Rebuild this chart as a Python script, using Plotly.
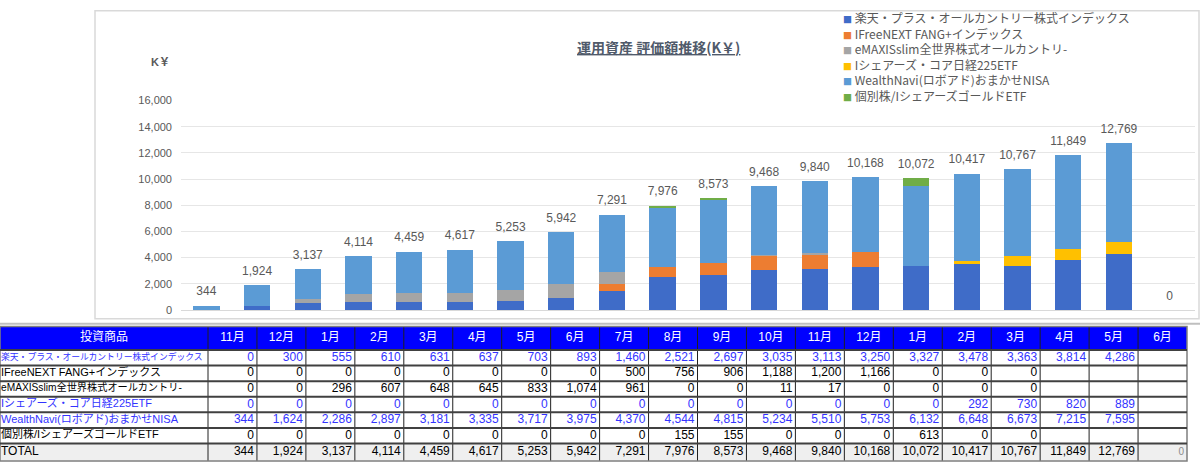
import plotly.graph_objects as go

W, H = 1200, 469

months = ['11月', '12月', '1月', '2月', '3月', '4月', '5月', '6月', '7月', '8月',
          '9月', '10月', '11月', '12月', '1月', '2月', '3月', '4月', '5月', '6月']

names = ['楽天・プラス・オールカントリー株式インデックス',
         'IFreeNEXT FANG+インデックス',
         'eMAXISslim全世界株式オールカントリ-',
         'Iシェアーズ・コア日経225ETF',
         'WealthNavi(ロボアド)おまかせNISA',
         '個別株/IシェアーズゴールドETF']

colors = ['#3f6cc8', '#ed7d31', '#a5a5a5', '#ffc000', '#5b9bd5', '#70ad47']

rakuten = [0, 300, 555, 610, 631, 637, 703, 893, 1460, 2521, 2697, 3035, 3113, 3250, 3327, 3478, 3363, 3814, 4286, None]
ifree = [0, 0, 0, 0, 0, 0, 0, 0, 500, 756, 906, 1188, 1200, 1166, 0, 0, 0, None, None, None]
emaxis = [0, 0, 296, 607, 648, 645, 833, 1074, 961, 0, 0, 11, 17, 0, 0, 0, 0, None, None, None]
ishares = [0, 0, 0, 0, 0, 0, 0, 0, 0, 0, 0, 0, 0, 0, 0, 292, 730, 820, 889, None]
wealth = [344, 1624, 2286, 2897, 3181, 3335, 3717, 3975, 4370, 4544, 4815, 5234, 5510, 5753, 6132, 6648, 6673, 7215, 7595, None]
kobetsu = [0, 0, 0, 0, 0, 0, 0, 0, 0, 155, 155, 0, 0, 0, 613, 0, 0, None, None, None]
totals = [344, 1924, 3137, 4114, 4459, 4617, 5253, 5942, 7291, 7976, 8573, 9468, 9840, 10168, 10072, 10417, 10767, 11849, 12769, 0]

series = [rakuten, ifree, emaxis, ishares, wealth, kobetsu]

yticks = [0, 2000, 4000, 6000, 8000, 10000, 12000, 14000, 16000]


def px_x(v):
    return v / W


def px_y(v):
    return 1 - v / H


def fmt(v):
    return '' if v is None else f'{v:,}'


fig = go.Figure()

xs = list(range(len(months)))

# stacked bars
for name, vals, col in zip(names, series, colors):
    fig.add_trace(go.Bar(x=xs, y=vals, name=name, marker_color=col,
                         marker_line_width=0, showlegend=False))

# total labels above bars
fig.add_trace(go.Scatter(x=xs, y=totals, mode='markers+text', text=[fmt(v) for v in totals],
                         textposition='top center',
                         marker=dict(size=10, color='rgba(0,0,0,0)'),
                         textfont=dict(family='Liberation Sans', size=12, color='#595959'),
                         showlegend=False, hoverinfo='skip'))

# ---- data table under the chart (own axes x2/y2, units = pixels, y going down as negative) ----
tbl_top = 329
name_w = 208
tbl_w = 1187
col_w = (tbl_w - name_w) / len(months)
x_edges = [0, name_w] + [name_w + col_w * (i + 1) for i in range(len(months))]
row_h = [24, 16, 16, 16, 16, 16, 16, 18]
y_edges = [0]
for h in row_h:
    y_edges.append(y_edges[-1] - h)
tbl_h = -y_edges[-1]
row_tops = [-y for y in y_edges]       # pixel offsets from the table top
y_edges = y_edges[::-1]                # ascending: bottom (total) first
y_mid_up = [(y_edges[i] + y_edges[i + 1]) / 2 for i in range(len(row_h))]
y_mid = y_mid_up[::-1]                 # top (header) first

# 2 = header, 0 = plain row, 1 = total row (listed bottom-up)
ncol = len(months) + 1
z = [[1] * ncol] + [[0] * ncol for _ in range(6)] + [[2] * ncol]
fig.add_trace(go.Heatmap(x=x_edges, y=y_edges, z=z, xaxis='x2', yaxis='y2',
                         colorscale=[[0, 'white'], [0.5, '#efefef'], [1, '#0000ff']],
                         zmin=0, zmax=2, showscale=False, hoverinfo='skip'))

# vertical grid lines of the table
gx, gy = [], []
for x in x_edges[1:-1]:
    gx += [x, x, None]
    gy += [y_edges[0], y_edges[-1], None]
fig.add_trace(go.Scatter(x=gx, y=gy, mode='lines', xaxis='x2', yaxis='y2',
                         line=dict(color='#202020', width=1),
                         showlegend=False, hoverinfo='skip'))

# header text
hdr_x = [(x_edges[i] + x_edges[i + 1]) / 2 for i in range(ncol)]
fig.add_trace(go.Scatter(x=hdr_x, y=[y_mid[0]] * ncol, text=['投資商品'] + months,
                         mode='text', textposition='middle center', xaxis='x2', yaxis='y2',
                         textfont=dict(family='Liberation Sans, Noto Sans CJK JP', size=12, color='white'),
                         showlegend=False, hoverinfo='skip'))

blue = '#3333ff'
row_colors = [blue, 'black', 'black', blue, blue, 'black', 'black']

# name column
fig.add_trace(go.Scatter(x=[1] * 7, y=y_mid[1:], text=names + ['TOTAL'],
                         mode='text', textposition='middle right', xaxis='x2', yaxis='y2',
                         textfont=dict(family='Liberation Sans, Noto Sans CJK JP',
                                       size=[8.8, 11, 10.2, 11, 11, 11, 12], color=row_colors),
                         showlegend=False, hoverinfo='skip'))

# value cells
vx, vy, vt, vc, vs = [], [], [], [], []
for i in range(len(months)):
    col_vals = [s[i] for s in series] + [totals[i]]
    for r, v in enumerate(col_vals):
        if v is None:
            continue
        vx.append(x_edges[i + 2] - 3)
        vy.append(y_mid[r + 1])
        vt.append(fmt(v))
        last = i == len(months) - 1
        vc.append('#8c8c8c' if last else row_colors[r])
        vs.append(10 if last else 12)
fig.add_trace(go.Scatter(x=vx, y=vy, text=vt, mode='text', textposition='middle left',
                         xaxis='x2', yaxis='y2',
                         textfont=dict(family='Liberation Sans', size=vs, color=vc),
                         showlegend=False, hoverinfo='skip'))

# horizontal row lines of the table (paper coordinates), a bit heavier so they survive rendering
row_lines = [dict(type='line', xref='paper', yref='paper', x0=0, x1=px_x(tbl_w),
                  y0=px_y(tbl_top + t), y1=px_y(tbl_top + t),
                  line=dict(color='#404040', width=2), layer='above') for t in row_tops[1:-1]]

# legend drawn as one text block
legend_lines = [f'<span style="color:{c};font-size:9px">■</span> {n}' for n, c in zip(names, colors)]

fig.update_layout(
    width=W, height=H,
    margin=dict(l=0, r=0, t=0, b=0),
    paper_bgcolor='white', plot_bgcolor='white',
    barmode='stack', bargap=0.48,
    font=dict(family='Liberation Sans, Noto Sans CJK JP', color='#595959'),
    xaxis=dict(domain=[px_x(181), px_x(1195)], range=[-0.5, 19.5], showticklabels=False,
               showgrid=False, zeroline=False, showline=False, fixedrange=True),
    yaxis=dict(domain=[px_y(312), px_y(97)], range=[0, 16000], tickvals=yticks, tickformat=',',
               gridcolor='#e6e6e6', zeroline=True, zerolinecolor='#d9d9d9', zerolinewidth=1,
               showline=False, ticks='', ticklabelstandoff=8,
               tickfont=dict(family='Liberation Sans', size=11, color='#595959')),
    xaxis2=dict(domain=[0, px_x(tbl_w)], range=[0, tbl_w], visible=False, fixedrange=True),
    yaxis2=dict(domain=[px_y(tbl_top + tbl_h), px_y(tbl_top)], range=[y_edges[0], 0],
                visible=False, fixedrange=True),
    shapes=[
        dict(type='rect', xref='paper', yref='paper', x0=px_x(95), x1=px_x(1199), y0=px_y(321), y1=px_y(5),
             line=dict(color='#d9d9d9', width=1.5), layer='below'),
        dict(type='line', xref='paper', yref='paper', x0=0, x1=1, y0=px_y(326), y1=px_y(326),
             line=dict(color='#bfbfbf', width=2)),
        dict(type='rect', xref='paper', yref='paper', x0=0, x1=px_x(tbl_w),
             y0=px_y(tbl_top + tbl_h), y1=px_y(tbl_top),
             line=dict(color='#7f7f7f', width=1.5)),
    ] + row_lines,
    annotations=[
        dict(text='<b><u>運用資産 評価額推移(K￥)</u></b>', xref='paper', yref='paper',
             x=px_x(658), y=px_y(42), xanchor='center', yanchor='middle', showarrow=False,
             font=dict(family='Noto Sans CJK JP', size=14, color='#505a6a')),
        dict(text='<b>K￥</b>', xref='paper', yref='paper', x=px_x(160), y=px_y(57),
             xanchor='center', yanchor='middle', showarrow=False,
             font=dict(family='Liberation Sans, Noto Sans CJK JP', size=11, color='#595959')),
        dict(text='<br>'.join(legend_lines), xref='paper', yref='paper', x=px_x(841), y=px_y(1),
             xanchor='left', yanchor='top', align='left', showarrow=False,
             font=dict(family='Noto Sans CJK JP', size=12, color='#595959')),
    ],
)

fig.write_html('out.html', config={'displayModeBar': False},
               post_script="document.body.style.margin='0';")
